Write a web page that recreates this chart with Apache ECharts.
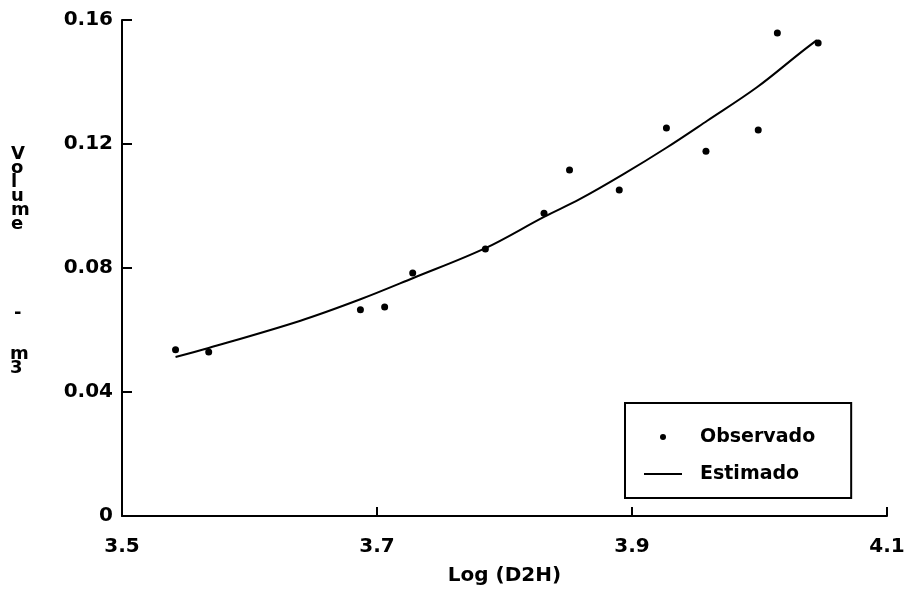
<!DOCTYPE html>
<html>
<head>
<meta charset="utf-8">
<script src="https://cdn.jsdelivr.net/npm/echarts@6/dist/echarts.min.js"></script>
<style>
  html, body { margin: 0; padding: 0; background: #fff; }
  #chart { width: 915px; height: 598px; }
</style>
</head>
<body>
<div id="chart"></div>
<script>
// Observed points (Log(D2H), Volume m3)
const obsX = [3.542, 3.568, 3.687, 3.706, 3.728, 3.785, 3.831, 3.851, 3.890, 3.927, 3.958, 3.999, 4.014, 4.046];
const obsY = [0.0536, 0.0529, 0.0665, 0.0674, 0.0784, 0.0861, 0.0977, 0.1116, 0.1052, 0.1252, 0.1177, 0.1245, 0.1558, 0.1526];

// Estimated curve
const fitX = [3.542, 3.568, 3.640, 3.687, 3.728, 3.785, 3.831, 3.859, 3.893, 3.927, 3.959, 3.998, 4.032, 4.045];
const fitY = [0.0513, 0.0542, 0.0630, 0.0699, 0.0767, 0.0864, 0.0965, 0.1022, 0.1102, 0.1188, 0.1275, 0.1383, 0.1494, 0.1535];

const xTickValues = [3.5, 3.7, 3.9, 4.1];
const yTickValues = [0, 0.04, 0.08, 0.12, 0.16];

const FONT = 'DejaVu Sans';

const chart = echarts.init(document.getElementById('chart'), null, { renderer: 'canvas' });

const option = {
  backgroundColor: '#ffffff',
  animation: false,
  grid: { left: 122, right: 28, top: 20, bottom: 82, containLabel: false },
  xAxis: {
    type: 'value',
    min: 3.5,
    max: 4.1,
    interval: 0.1,
    name: 'Log (D2H)',
    nameLocation: 'middle',
    nameGap: 50,
    nameTextStyle: { fontFamily: FONT, fontWeight: 'bold', fontSize: 20, color: '#000' },
    axisLine: { show: true, lineStyle: { color: '#000', width: 2 } },
    axisTick: { show: true, inside: true, length: 9, customValues: xTickValues, lineStyle: { color: '#000', width: 2 } },
    axisLabel: {
      customValues: xTickValues,
      margin: 21,
      fontFamily: FONT, fontWeight: 'bold', fontSize: 20, color: '#000',
      formatter: v => v.toFixed(1)
    },
    splitLine: { show: false }
  },
  yAxis: {
    type: 'value',
    min: 0,
    max: 0.16,
    interval: 0.04,
    axisLine: { show: true, lineStyle: { color: '#000', width: 2 } },
    axisTick: { show: true, inside: true, length: 10, customValues: yTickValues, lineStyle: { color: '#000', width: 2 } },
    axisLabel: {
      customValues: yTickValues,
      margin: 9,
      fontFamily: FONT, fontWeight: 'bold', fontSize: 20, color: '#000',
      formatter: v => (v === 0 ? '0' : String(+v.toFixed(2)))
    },
    splitLine: { show: false }
  },
  legend: {
    orient: 'vertical',
    left: 625,
    top: 403,
    padding: [24, 36, 14, 19],
    itemGap: 17,
    itemWidth: 38,
    itemHeight: 6,
    borderColor: '#000',
    borderWidth: 2,
    borderRadius: 0,
    textStyle: { fontFamily: FONT, fontWeight: 'bold', fontSize: 19, color: '#000', lineHeight: 20, padding: [0, 0, 0, 13] },
    data: [
      { name: 'Observado', icon: 'circle', itemStyle: { color: '#000', opacity: 1 } },
      { name: 'Estimado', icon: 'path://M0,0h40v2.2h-40z', itemStyle: { color: '#000', opacity: 1 } }
    ]
  },
  graphic: [
    { type: 'text', left: 11, top: 145, style: { text: 'V\no\nl\nu\nm\ne', fontFamily: FONT, fontWeight: 'bold', fontSize: 18, lineHeight: 14, fill: '#000', align: 'center' } },
    { type: 'text', left: 14, top: 304, style: { text: '-', fontFamily: FONT, fontWeight: 'bold', fontSize: 18, lineHeight: 14, fill: '#000', align: 'center' } },
    { type: 'text', left: 10, top: 345, style: { text: 'm\n3', fontFamily: FONT, fontWeight: 'bold', fontSize: 18, lineHeight: 14, fill: '#000', align: 'center' } }
  ],
  series: [
    {
      name: 'Observado',
      type: 'scatter',
      symbol: 'circle',
      symbolSize: 7,
      itemStyle: { color: '#000', opacity: 1 },
      data: obsX.map((x, i) => [x, obsY[i]]),
      z: 3
    },
    {
      name: 'Estimado',
      type: 'line',
      smooth: 0.35,
      symbol: 'none',
      showSymbol: false,
      lineStyle: { color: '#000', width: 2 },
      itemStyle: { color: '#000' },
      data: fitX.map((x, i) => [x, fitY[i]]),
      z: 2
    }
  ]
};

chart.setOption(option);
</script>
</body>
</html>
